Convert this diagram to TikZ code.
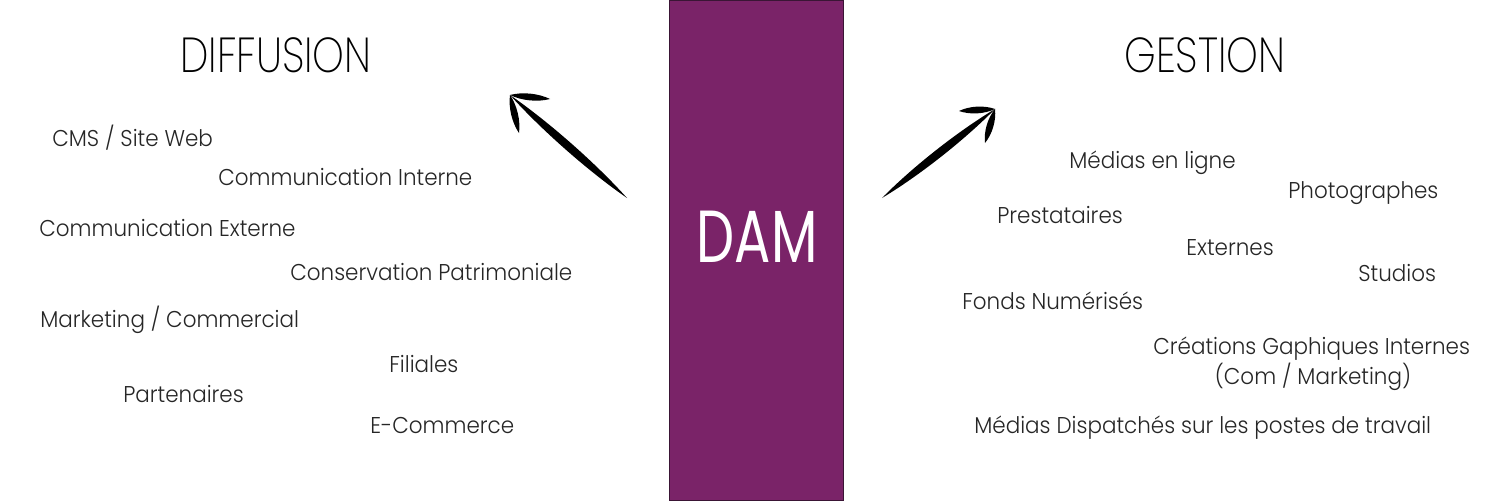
\documentclass[tikz,border=0pt]{standalone}
\usepackage{fontspec}
\setmainfont{Poppins}[UprightFont=* Light, FakeStretch=0.94]
\newfontfamily\titlefont{Poppins}[UprightFont=* ExtraLight, FakeStretch=0.82]
\newfontfamily\damfont{Poppins}[FakeStretch=0.73]
\usetikzlibrary{calc}
\definecolor{dampurple}{HTML}{7A2368}
\definecolor{damborder}{HTML}{3A1535}
\tikzset{
  item/.style={anchor=base west, inner sep=0pt, font=\fontsize{13}{15}\selectfont, text=black!85},
  ttl/.style={anchor=base west, inner sep=0pt, font=\titlefont\fontsize{28}{30}\selectfont, text=black},
}
\newcommand\brushstroke[3]{%
  \fill[black] (#1) .. controls ($(#1)!0.3!(#2)!#3!90:(#2)$) and ($(#1)!0.7!(#2)!#3!90:(#2)$) .. (#2)
    .. controls ($(#1)!0.7!(#2)!#3!-90:(#2)$) and ($(#1)!0.3!(#2)!#3!-90:(#2)$) .. (#1) -- cycle;}
\begin{document}
\begin{tikzpicture}[x=0.02cm, y=-0.02cm]
\useasboundingbox (0,0) rectangle (1500,500);
\fill[white] (0,0) rectangle (1500,500);
% DAM box
\node[draw=damborder, line width=0.6pt, fill=dampurple, minimum width=3.48cm, minimum height=10cm, inner sep=0pt, anchor=north west] (box) at (669,0) {};
\node[anchor=base, inner sep=0pt, text=white, font=\damfont\fontsize{42}{44}\selectfont] (dam) at (757,262) {DAM};
% titles
\node[ttl] (diff) at (180,72) {DIFFUSION};
\node[ttl] (gest) at (1124,72) {GESTION};
% left items
\node[item] (l1) at (52,146) {CMS / Site Web};
\node[item] (l2) at (218,185) {Communication Interne};
\node[item] (l3) at (39,236) {Communication Externe};
\node[item] (l4) at (290,280) {Conservation Patrimoniale};
\node[item] (l5) at (40,327) {Marketing / Commercial};
\node[item] (l6) at (389,372) {Filiales};
\node[item] (l7) at (123,402) {Partenaires};
\node[item] (l8) at (370,433) {E-Commerce};
% right items
\node[item] (r1) at (1069,168) {Médias en ligne};
\node[item] (r2) at (1288,198) {Photographes};
\node[item] (r3) at (997,223) {Prestataires};
\node[item] (r4) at (1186,255) {Externes};
\node[item] (r5) at (1358,281) {Studios};
\node[item] (r6) at (962,309) {Fonds Numérisés};
\node[item] (r7) at (1153,354) {Créations Gaphiques Internes};
\node[item, anchor=base] (r7b) at (1313,384) {(Com / Marketing)};
\node[item] (r8) at (974,433) {Médias Dispatchés sur les postes de travail};
% left arrow
\coordinate (lt) at (627,198);
\coordinate (lh) at (510,95);
\coordinate (lb1) at (550,99);
\coordinate (lb2) at (519,133);
\brushstroke{lt}{lh}{0.11cm}
\brushstroke{lh}{lb1}{0.09cm}
\brushstroke{lh}{lb2}{0.09cm}
% right arrow
\coordinate (rt) at (882,198);
\coordinate (rh) at (995,109);
\coordinate (rb1) at (959,111);
\coordinate (rb2) at (985,143);
\brushstroke{rt}{rh}{0.11cm}
\brushstroke{rh}{rb1}{0.09cm}
\brushstroke{rh}{rb2}{0.09cm}
\end{tikzpicture}
\end{document}
